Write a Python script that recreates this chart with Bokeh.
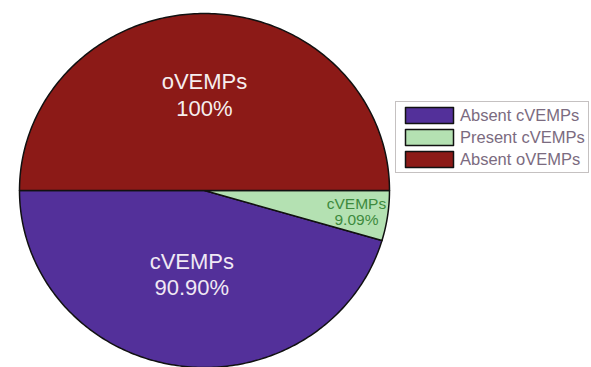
import numpy as np
from bokeh.plotting import figure
from bokeh.models import Range1d, Legend, LegendItem, ColumnDataSource
from bokeh.core.properties import value
from bokeh.embed import file_html
from bokeh.resources import INLINE

# ---- data ----
legend_labels = ["Absent cVEMPs", "Present cVEMPs", "Absent oVEMPs"]
slice_names = ["cVEMPs", "cVEMPs", "oVEMPs"]
pct_text = ["90.90%", "9.09%", "100%"]
pct_values = [90.90, 9.09, 100.0]       # percent within its own half
colors = ["#53309a", "#b4e1b2", "#8c1a17"]
text_colors = ["#f0e8f4", "#3d8a3d", "#f6eeee"]

# ---- styles / layout ----
cx, cy, RX, RY = 204, 177, 185, 177
label_r = [0.48, 0.83, 0.54]
label_size = ["22px", "15.5px", "22px"]

p = figure(width=591, height=367, output_backend="svg", toolbar_location=None,
           x_range=Range1d(0, 591), y_range=Range1d(0, 367), min_border=0)
p.axis.visible = False
p.grid.visible = False
p.outline_line_color = None
p.background_fill_color = "white"

# angles: bottom half split between absent/present cVEMPs, top half oVEMPs
a_abs = pct_values[0] / 100.0 * np.pi
a_pre = pct_values[1] / 100.0 * np.pi
starts = [np.pi, np.pi + a_abs, 0.0]
ends = [np.pi + a_abs, np.pi + a_abs + a_pre, np.pi * pct_values[2] / 100.0]

renderers = []
for i in range(3):
    th = np.linspace(starts[i], ends[i], 200)
    xs = np.concatenate([[cx], cx + RX * np.cos(th)])
    ys = np.concatenate([[cy], cy + RY * np.sin(th)])
    src = ColumnDataSource(dict(xs=[xs.tolist()], ys=[ys.tolist()]))
    r = p.patches(xs="xs", ys="ys", source=src, fill_color=colors[i],
                  line_color="#111111", line_width=1.5, line_join="round")
    renderers.append(r)

for i in range(3):
    mid = (starts[i] + ends[i]) / 2.0
    lx = cx + label_r[i] * RX * np.cos(mid)
    ly = cy + label_r[i] * RY * np.sin(mid)
    p.text(x=[lx], y=[ly], text=[slice_names[i] + "\n" + pct_text[i]],
           text_align="center", text_baseline="middle",
           text_font=value("Liberation Sans"), text_font_size=label_size[i],
           text_color=text_colors[i], text_line_height=0.95 if i == 1 else 1.05)

legend = Legend(items=[LegendItem(label=legend_labels[i], renderers=[renderers[i]])
                       for i in range(3)],
                location=(395, 194))
legend.glyph_width = 60
legend.glyph_height = 20
legend.label_height = 20
legend.spacing = 2
legend.padding = 3
legend.margin = 0
legend.label_standoff = 1
legend.label_text_font = "Liberation Sans"
legend.label_text_font_size = "16.5px"
legend.label_text_color = "#7b6b80"
legend.border_line_color = "#8c8484"
legend.border_line_width = 1.5
legend.background_fill_color = "white"
legend.background_fill_alpha = 1.0
p.add_layout(legend)

open("out.html", "w").write(file_html(p, INLINE))
